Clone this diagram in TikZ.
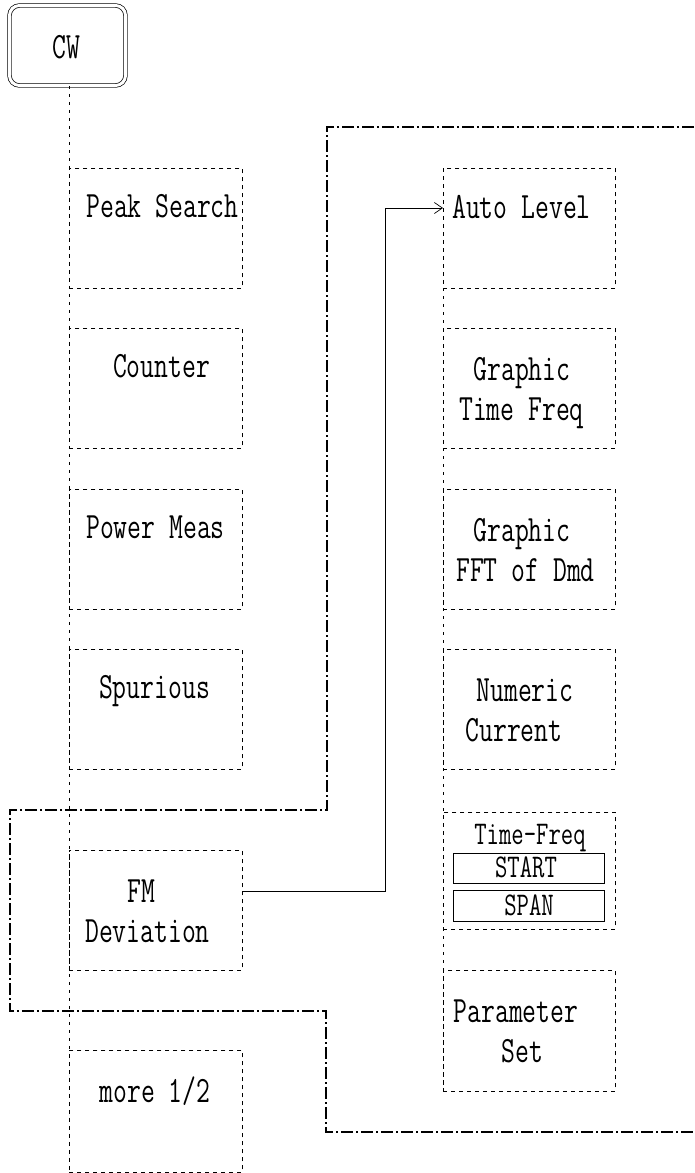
\documentclass[tikz,border=0pt]{standalone}
\usepackage{fontspec}
\usepackage{graphicx}
\usetikzlibrary{arrows.meta}
\newcommand{\tl}[1]{\scalebox{1}[1.38]{#1}}
\begin{document}
\begin{tikzpicture}[x=1pt,y=-1pt,
  menubox/.style={draw, line width=0.8pt, dash pattern=on 4pt off 4pt, minimum width=173pt, minimum height=120pt, anchor=north west, inner sep=0pt},
  lbl/.style={font={\ttfamily\fontsize{26.9pt}{30pt}\selectfont}, anchor=base, inner sep=0pt},
  slbl/.style={font={\ttfamily\fontsize{24pt}{28pt}\selectfont}, anchor=base, inner sep=0pt},
  subbox/.style={draw, line width=0.9pt, minimum width=151pt, anchor=north west, inner sep=0pt},
  vline/.style={line width=0.8pt, dash pattern=on 3pt off 5pt},
  outline/.style={line width=2.6pt, dash pattern=on 12pt off 3pt on 2pt off 3pt},
  conn/.style={line width=0.7pt, -{Straight Barb[length=8pt,width=11pt]}}
]
\useasboundingbox (0,0) rectangle (694,1173);

% CW button
\node[draw, double, double distance=3pt, line width=0.7pt, rounded corners=10pt,
      minimum width=116pt, minimum height=80pt, inner sep=0pt] (cw) at (67.5,45.5) {};
\node[lbl] (cwt) at (66,58) {\tl{CW}};

% left column boxes
\node[menubox] (pk) at (69,168) {};
\node[menubox] (co) at (69,328) {};
\node[menubox] (pm) at (69,489) {};
\node[menubox] (sp) at (69,649) {};
\node[menubox] (fm) at (69,850) {};
\node[menubox, minimum height=122pt] (more) at (69,1050) {};

\node[lbl] (pkt) at (162.5,217) {\tl{Peak Search}};
\node[lbl] (cot) at (161.5,377) {\tl{Counter}};
\node[lbl] (pmt) at (155.5,538) {\tl{Power Meas}};
\node[lbl] (spt) at (154.5,698) {\tl{Spurious}};
\node[lbl] (fmt1) at (141,902) {\tl{FM}};
\node[lbl] (fmt2) at (147.5,942) {\tl{Deviation}};
\node[lbl] (moret) at (155,1102) {\tl{more 1/2}};

% right column boxes
\node[menubox, minimum width=172pt] (al) at (443,168) {};
\node[menubox, minimum width=172pt] (gt) at (443,328) {};
\node[menubox, minimum width=172pt] (gf) at (443,489) {};
\node[menubox, minimum width=172pt] (nc) at (443,649) {};
\node[menubox, minimum width=172pt, minimum height=117pt] (tf) at (443,812) {};
\node[menubox, minimum width=172pt, minimum height=121pt] (ps) at (443,970) {};

\node[lbl] (alt) at (521.5,218) {\tl{Auto Level}};
\node[lbl] (gtt1) at (522,380) {\tl{Graphic}};
\node[lbl] (gtt2) at (521.5,420) {\tl{Time Freq}};
\node[lbl] (gft1) at (522,541) {\tl{Graphic}};
\node[lbl] (gft2) at (525.5,581) {\tl{FFT of Dmd}};
\node[lbl] (nct1) at (525,701) {\tl{Numeric}};
\node[lbl] (nct2) at (514,741) {\tl{Current}};
\node[slbl] (tft) at (530,844) {\tl{Time-Freq}};
\node[subbox, minimum height=30pt] (start) at (453,853) {};
\node[subbox, minimum height=31pt] (span) at (453,890) {};
\node[slbl] (startt) at (526,877) {\tl{START}};
\node[slbl] (spant) at (529,915) {\tl{SPAN}};
\node[lbl] (pst1) at (516,1022) {\tl{Parameter}};
\node[lbl] (pst2) at (522.5,1062) {\tl{Set}};

% vertical guide lines
\draw[vline] (cw.south -| pk.north west) -- (more.south west);
\draw[vline] (al.north west) -- (ps.south west);

% dash-dot outline
\draw[outline] (694,127) -- (327,127) -- (327,810) -- (10,810) -- (10,1011)
  -- (326,1011) -- (326,1132) -- (694,1132);

% connector
\draw[conn] ([yshift=-41pt]fm.north east) -- ++(143,0) |- ([yshift=-40pt]al.north west);
\end{tikzpicture}
\end{document}
